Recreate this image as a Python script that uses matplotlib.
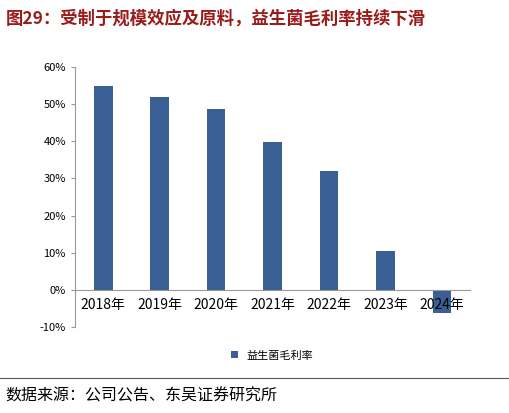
import matplotlib
matplotlib.use("Agg")
import matplotlib.pyplot as plt
from matplotlib.lines import Line2D

plt.rcParams['font.family'] = ['Noto Sans CJK SC', 'DejaVu Sans']

years = ['2018年', '2019年', '2020年', '2021年', '2022年', '2023年', '2024年']
margin = [54.8, 52.0, 48.7, 39.9, 31.9, 10.5, -6.2]
series_name = '益生菌毛利率'
title = '图29：受制于规模效应及原料，益生菌毛利率持续下滑'
source = '数据来源：公司公告、东吴证券研究所'

fig = plt.figure(figsize=(5.1, 4.13), dpi=100)
fig.text(0.012, 0.955, title, color='#9B1B1B', fontsize=12.5, fontweight='bold', va='center')
fig.add_artist(Line2D([0, 1], [0.085, 0.085], color='#555555', lw=0.8))
fig.text(0.01, 0.04, source, fontsize=11.5, va='center')

ax = fig.add_axes([0.147, 0.208, 0.775, 0.63])
x = range(len(years))
ax.bar(x, margin, width=0.33, color='#3A5F94', label=series_name)
ax.set_ylim(-10, 60)
ax.set_xlim(-0.5, len(years) - 0.5)
ax.set_yticks(range(-10, 61, 10))
ax.set_yticklabels([f'{v}%' for v in range(-10, 61, 10)], fontsize=8)
ax.set_xticks(list(x))
ax.set_xticklabels(years, fontsize=8)
ax.tick_params(axis='x', length=0, pad=6)
ax.tick_params(axis='y', length=3, direction='out', color='#999999')
for s in ['top', 'right']:
    ax.spines[s].set_visible(False)
ax.spines['bottom'].set_position(('data', 0))
ax.spines['bottom'].set_color('#999999')
ax.spines['left'].set_color('#999999')
ax.legend(loc='center', bbox_to_anchor=(0.5, -0.11), frameon=False, fontsize=8,
          handlelength=0.6, handleheight=0.6)
fig.savefig('out.png', dpi=100)
